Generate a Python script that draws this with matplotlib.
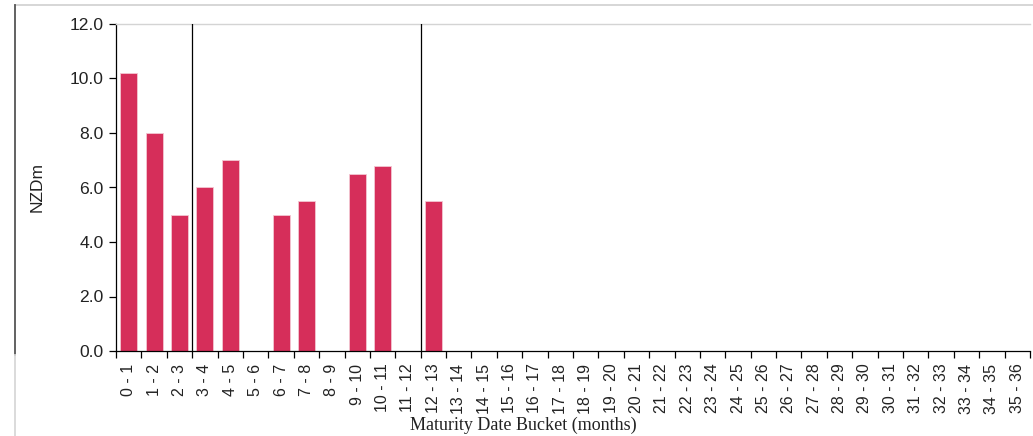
import matplotlib
matplotlib.use("Agg")
import matplotlib.pyplot as plt
from matplotlib.lines import Line2D
from matplotlib.ticker import FixedLocator, NullFormatter

categories = [f"{i} - {i+1}" for i in range(36)]
values = [10.2, 8.0, 5.0, 6.0, 7.0, 0, 5.0, 5.5, 0, 6.5, 6.8, 0, 5.5] + [0] * 23
divider_positions = [3, 12]  # category boundaries with vertical lines

W, H = 1033, 436
fig = plt.figure(figsize=(W / 100, H / 100), dpi=100)
ax = fig.add_axes([116 / W, 1 - 351 / H, (1030 - 116) / W, (351 - 24) / H])

x = list(range(len(categories)))
ax.bar([i + 0.5 for i in x], values, width=0.67, color="#D62E5A",
       edgecolor="#F3C6D2", linewidth=0.6, zorder=2)

for d in divider_positions:
    ax.axvline(d, color="black", linewidth=0.9, zorder=3)

ax.set_xlim(0, len(categories))
ax.set_ylim(0, 12)
ax.set_yticks([0, 2, 4, 6, 8, 10, 12])
ax.set_yticklabels([f"{v:.1f}" for v in [0, 2, 4, 6, 8, 10, 12]],
                   fontsize=12.6, family="Liberation Sans", color="#222222")

ax.xaxis.set_major_locator(FixedLocator([i for i in range(len(categories) + 1)]))
ax.xaxis.set_major_formatter(NullFormatter())
ax.xaxis.set_minor_locator(FixedLocator([i + 0.5 for i in x]))
ax.set_xticklabels(categories, minor=True, rotation=90, fontsize=11.5,
                   family="Liberation Sans", color="#222222")
ax.tick_params(axis="x", which="major", direction="out", length=5, width=0.9, color="black")
ax.tick_params(axis="x", which="minor", length=0, pad=9)
ax.tick_params(axis="y", direction="out", length=5, width=0.9, color="black", pad=4)

ax.spines["right"].set_visible(False)
ax.spines["top"].set_color("#D4D4D4")
ax.spines["top"].set_linewidth(1.0)
ax.spines["left"].set_color("black")
ax.spines["bottom"].set_color("black")
ax.spines["left"].set_linewidth(0.9)
ax.spines["bottom"].set_linewidth(0.9)

ax.set_ylabel("NZDm", fontsize=12.5, family="Liberation Sans", color="#222222")
ax.yaxis.set_label_coords(-(116 - 45) / (1030 - 116), 0.5)
ax.set_xlabel("Maturity Date Bucket (months)", fontsize=13,
              family="Liberation Serif", color="#222222", va="center")
ax.xaxis.set_label_coords((523 - 116) / (1030 - 116), -(425 - 351) / (351 - 24))

# outer frame lines
fig.add_artist(Line2D([15 / W, 1], [1 - 5 / H, 1 - 5 / H], transform=fig.transFigure,
                      color="#D0D0D0", linewidth=1.2))
fig.add_artist(Line2D([15 / W, 15 / W], [1 - 5 / H, 1 - 355 / H], transform=fig.transFigure,
                      color="#555555", linewidth=1.3))
fig.add_artist(Line2D([15 / W, 15 / W], [1 - 355 / H, 0], transform=fig.transFigure,
                      color="#D8D8D8", linewidth=1.3))

fig.savefig("out.png", dpi=100)
